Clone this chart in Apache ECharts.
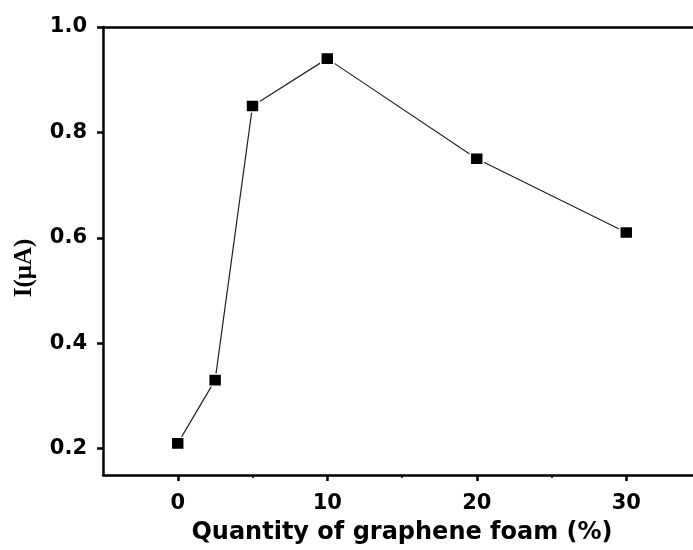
<!DOCTYPE html>
<html lang="en">

<head>
    <meta charset="UTF-8">
    <title>I vs graphene foam</title>
    <style>
        *{
            padding:0;
            margin:0;
        }
    </style>
    <script type="text/javascript" src="https://cdn.jsdelivr.net/npm/echarts@6/dist/echarts.min.js"></script>
</head>

<body>
    <div id="main" style="width: 693px;height:550px;"></div>
    <script type="text/javascript">
        // data
        var foamPercent = [0, 2.5, 5, 10, 20, 30];
        var currentUA = [0.21, 0.33, 0.85, 0.94, 0.75, 0.61];
        var xTicks = [0, 10, 20, 30];
        var xMinorTicks = [5, 15, 25];
        var yTicks = [0.2, 0.4, 0.6, 0.8, 1.0];

        var myChart = echarts.init(document.getElementById('main'));

        var tickFont = {
            fontFamily: "DejaVu Sans",
            fontWeight: "bold",
            fontSize: 21,
            color: "#000"
        };

        var points = foamPercent.map(function (x, i) {
            return [x, currentUA[i]];
        });

        var option = {
            animation: false,
            grid: {
                left: 103,
                top: 27,
                width: 598,
                height: 448,
                outerBoundsMode: "none"
            },
            xAxis: [{
                type: "value",
                position: "bottom",
                min: -5,
                max: 35,
                name: "Quantity of graphene foam (%)",
                nameLocation: "middle",
                nameGap: 46,
                nameTextStyle: {
                    fontFamily: "DejaVu Sans",
                    fontWeight: "bold",
                    fontSize: 24,
                    color: "#000"
                },
                axisLine: {
                    onZero: false,
                    lineStyle: { color: "#000", width: 2.5 }
                },
                axisTick: {
                    inside: false,
                    length: 6,
                    customValues: xTicks,
                    lineStyle: { color: "#000", width: 2.5 }
                },
                axisLabel: Object.assign({
                    margin: 18,
                    customValues: xTicks
                }, tickFont),
                splitLine: { show: false }
            }, {
                // minor ticks between the labelled ones
                type: "value",
                position: "bottom",
                min: -5,
                max: 35,
                axisLine: { show: false },
                axisTick: {
                    length: 3,
                    customValues: xMinorTicks,
                    lineStyle: { color: "#000", width: 1.5 }
                },
                axisLabel: { show: false },
                splitLine: { show: false }
            }, {
                // frame line at the top
                type: "value",
                position: "top",
                min: -5,
                max: 35,
                axisLine: {
                    onZero: false,
                    lineStyle: { color: "#000", width: 2.5 }
                },
                axisTick: { show: false },
                axisLabel: { show: false },
                splitLine: { show: false }
            }],
            yAxis: {
                type: "value",
                min: 0.15,
                max: 1.0,
                name: "I(μA)",
                nameLocation: "middle",
                nameGap: 66,
                nameRotate: 90,
                nameTextStyle: {
                    fontFamily: "Liberation Serif",
                    fontWeight: "bold",
                    fontSize: 25,
                    color: "#000",
                    padding: [0, 34, 0, 0]
                },
                axisLine: {
                    show: true,
                    onZero: false,
                    lineStyle: { color: "#000", width: 2.5 }
                },
                axisTick: {
                    show: true,
                    length: 6,
                    customValues: yTicks,
                    lineStyle: { color: "#000", width: 2.5 }
                },
                axisLabel: Object.assign({
                    margin: 16,
                    customValues: yTicks,
                    formatter: function (v) { return v.toFixed(1); }
                }, tickFont),
                splitLine: { show: false }
            },
            series: [{
                type: "line",
                xAxisIndex: 0,
                data: points,
                symbol: "rect",
                symbolSize: [13, 12],
                itemStyle: {
                    color: "#000",
                    borderColor: "#fff",
                    borderWidth: 1.5
                },
                lineStyle: { color: "#222", width: 1.2 }
            }]
        };

        myChart.setOption(option);
    </script>
</body>

</html>
